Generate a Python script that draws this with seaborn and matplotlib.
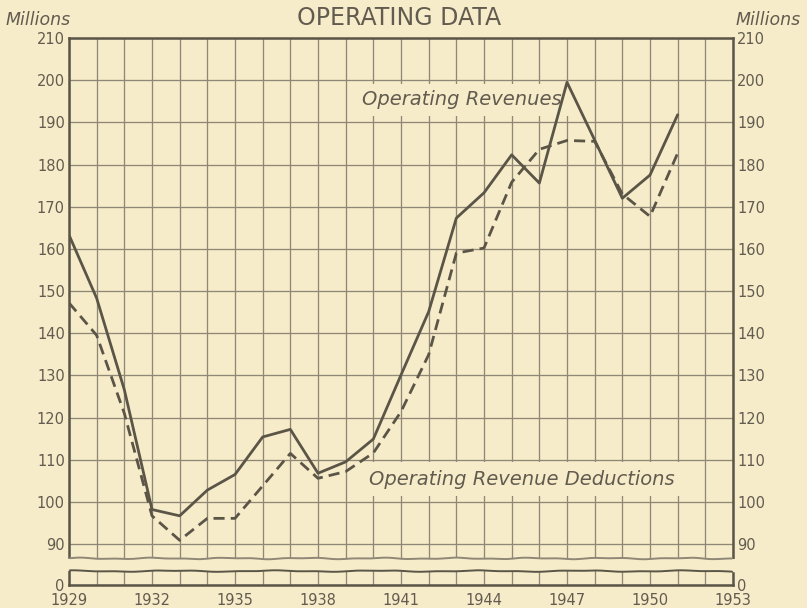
import numpy as np
import pandas as pd
import matplotlib
matplotlib.use("Agg")
import matplotlib.pyplot as plt
import seaborn as sns

# ---- data (millions) ----
years = list(range(1929, 1952))
revenues = [163.3, 148.3, 126.6, 98.2, 96.7, 102.8, 106.5, 115.4, 117.2, 106.8, 109.5,
            114.9, 130.1, 145.1, 167.3, 173.3, 182.3, 175.6, 199.5, 185.8, 172.0, 177.5, 191.8]
deductions = [147.2, 139.5, 121.0, 96.7, 90.9, 96.1, 96.1, 103.8, 111.5, 105.6, 107.2,
              111.6, 121.4, 134.9, 159.0, 160.2, 175.8, 183.6, 185.7, 185.5, 173.0, 167.7, 182.7]
series_names = ["Operating Revenues", "Operating Revenue Deductions"]
ytick_values = [0, 90, 100, 110, 120, 130, 140, 150, 160, 170, 180, 190, 200, 210]
xtick_years = [1929, 1932, 1935, 1938, 1941, 1944, 1947, 1950, 1953]
title = "OPERATING DATA"
unit_label = "Millions"

df = pd.DataFrame({
    "year": years * 2,
    "value": revenues + deductions,
    "series": [series_names[0]] * len(years) + [series_names[1]] * len(years),
})

BG = "#F7ECC9"
INK = "#5B5548"
GRID = "#8F8877"
TXT = "#625C50"

sns.set_style("white")
plt.rcParams["font.family"] = ["DejaVu Sans"]

fig = plt.figure(figsize=(8.07, 6.08), dpi=100)
fig.patch.set_facecolor(BG)
ax = fig.add_axes([69 / 807, 23 / 608, 664 / 807, 547 / 608])
ax.set_facecolor(BG)

ZERO = 80.3  # position where the "0" of the broken axis sits
ax.set_xlim(1929, 1953)
ax.set_ylim(ZERO, 210)

sns.lineplot(data=df, x="year", y="value", hue="series", style="series",
             palette={series_names[0]: INK, series_names[1]: INK},
             dashes={series_names[0]: "", series_names[1]: (4, 2.2)},
             linewidth=2.0, legend=False, ax=ax, zorder=5)

# grid
ax.set_xticks(xtick_years)
ax.set_xticks(list(range(1929, 1954)), minor=True)
ypos = [ZERO if v == 0 else v for v in ytick_values]
ax.set_yticks(ypos)
ax.set_yticklabels([str(v) for v in ytick_values])
ax.set_xticklabels([str(v) for v in xtick_years])
ax.grid(True, which="both", axis="x", color=GRID, linewidth=0.95, zorder=1)
ax.grid(True, which="major", axis="y", color=GRID, linewidth=0.95, zorder=1)
ax.set_axisbelow(True)

ax.tick_params(axis="both", which="both", length=0, colors=TXT, labelsize=10.5)
ax.tick_params(axis="y", labelright=True, pad=3)
ax.tick_params(axis="x", pad=6)
for lab in ax.get_yticklabels() + ax.get_xticklabels():
    lab.set_color(TXT)

for s in ax.spines.values():
    s.set_color(INK)
    s.set_linewidth(1.8)
    s.set_visible(True)

ax.set_xlabel("")
ax.set_ylabel("")

# axis break (wavy strip)
xx = np.linspace(1928.6, 1953.4, 400)
w1 = 0.12 * np.sin(xx * 2.3) + 0.08 * np.sin(xx * 5.1 + 1.0)
w2 = 0.12 * np.sin(xx * 1.7 + 2.0) + 0.07 * np.sin(xx * 4.3)
top_edge = 86.6 + w1
bot_edge = 83.6 + w2
ax.fill_between(xx, bot_edge, top_edge, color=BG, zorder=4, clip_on=False, linewidth=0)
m = (xx >= 1929) & (xx <= 1953)
ax.plot(xx[m], top_edge[m], color=GRID, lw=1.4, zorder=4.5)
ax.plot(xx[m], bot_edge[m], color=INK, lw=1.4, zorder=4.5)

# series labels with background boxes
ax.text(1939.6, 195.3, series_names[0], fontsize=14,
        style="italic", color=TXT, ha="left", va="center", zorder=4.8,
        bbox=dict(boxstyle="square,pad=0.35", fc=BG, ec="none"))
ax.text(1939.85, 105.4, series_names[1], fontsize=14,
        style="italic", color=TXT, ha="left", va="center", zorder=4.8,
        bbox=dict(boxstyle="square,pad=0.4", fc=BG, ec="none"))

# titles
fig.text(399 / 807, 1 - 18 / 608, title, fontsize=17, color=TXT, ha="center", va="center")
fig.text(6 / 807, 1 - 20 / 608, unit_label, fontsize=12.5, style="italic", color=TXT,
         ha="left", va="center")
fig.text(801 / 807, 1 - 20 / 608, unit_label, fontsize=12.5, style="italic", color=TXT,
         ha="right", va="center")

fig.savefig("out.png", dpi=100, facecolor=BG)
